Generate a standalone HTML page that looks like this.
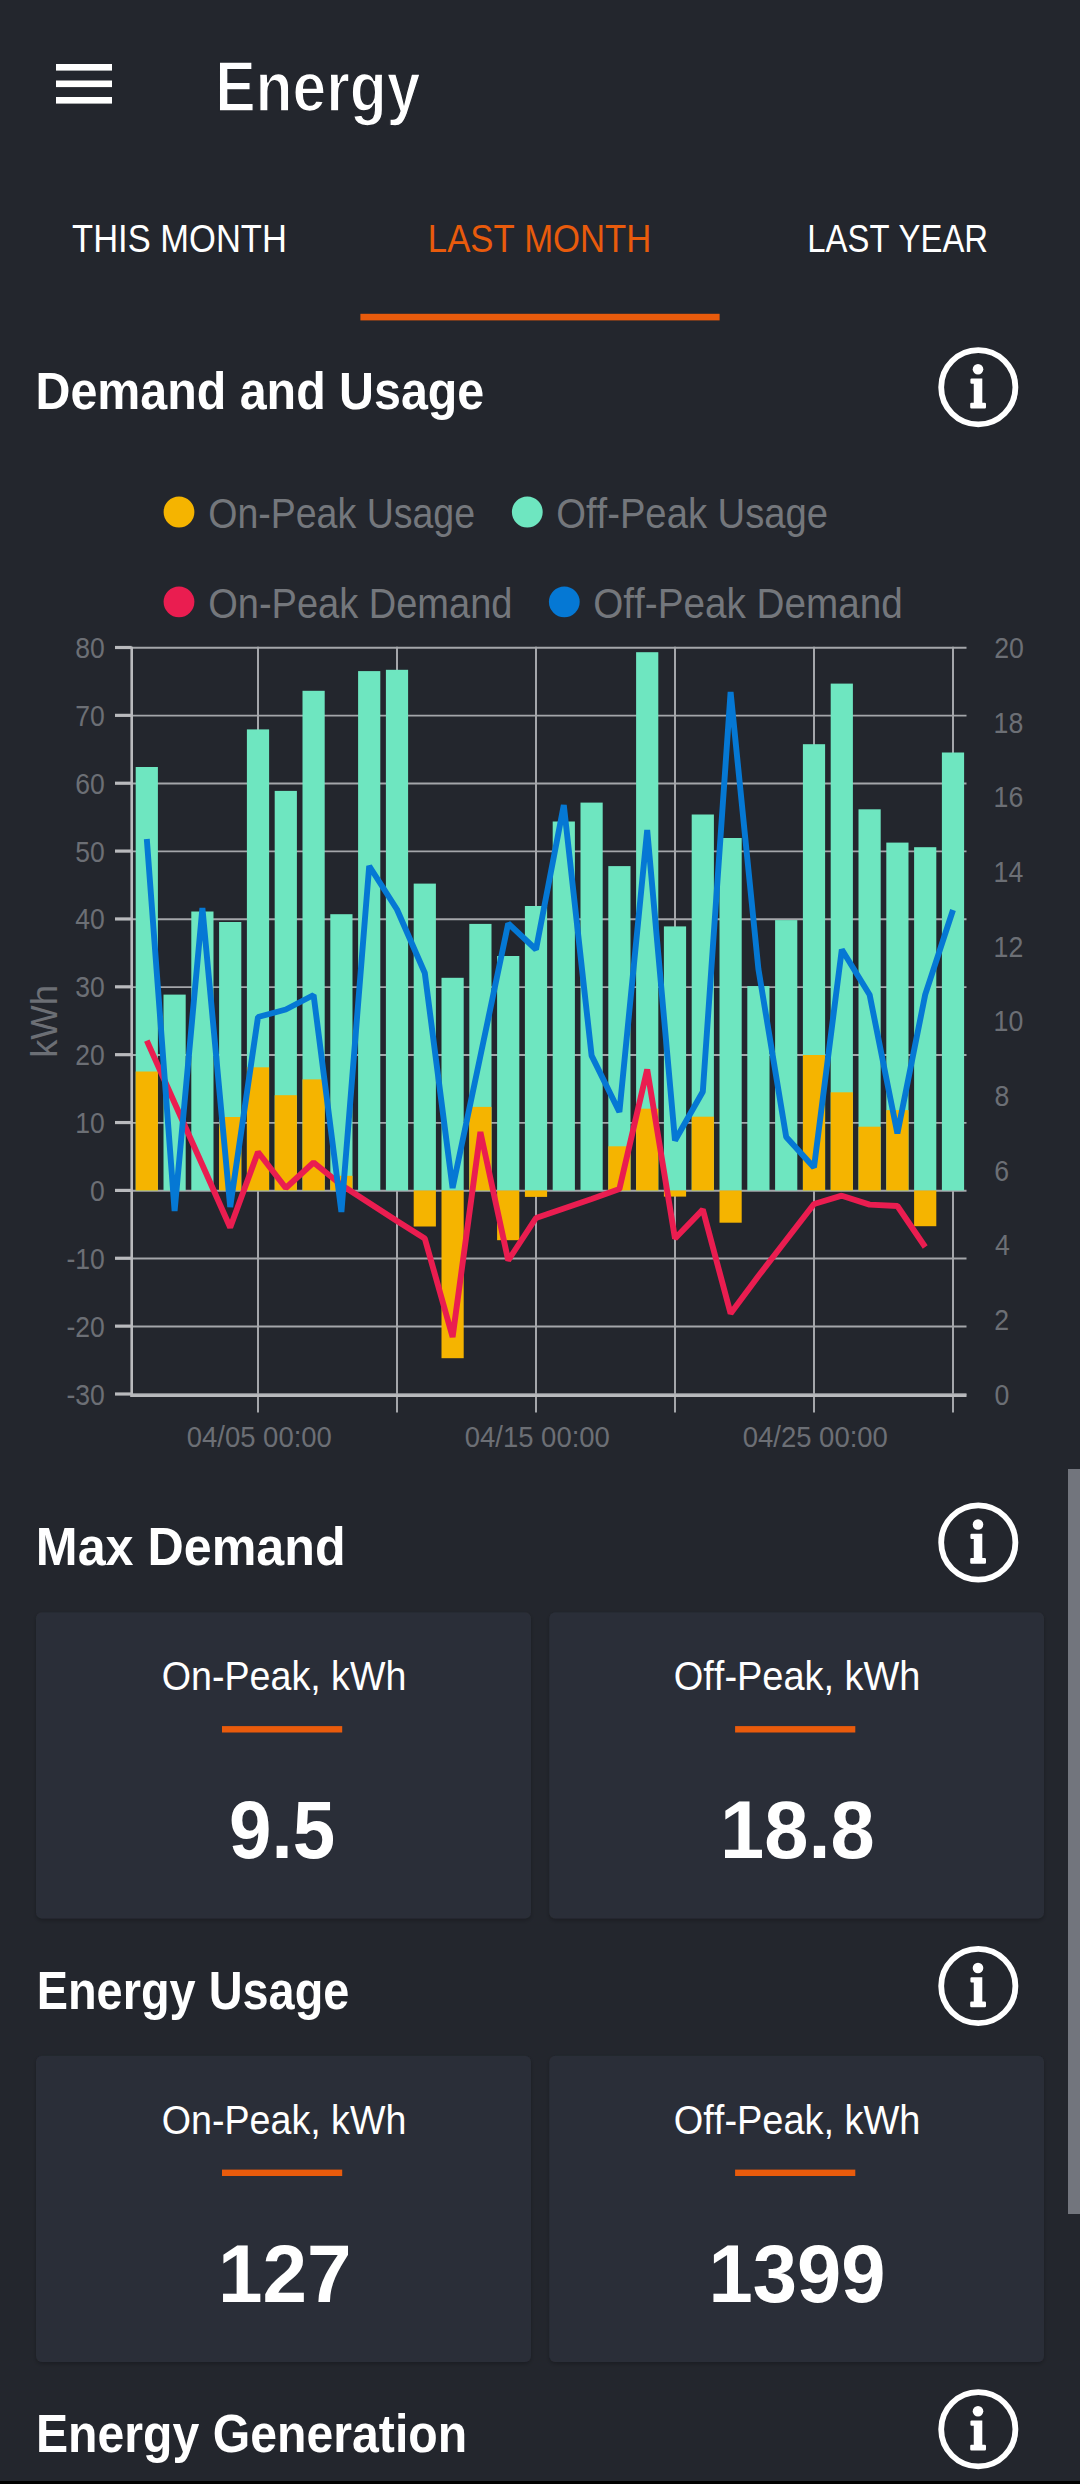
<!DOCTYPE html>
<html><head><meta charset="utf-8"><title>Energy</title>
<style>
html,body{margin:0;padding:0;background:#23262d;}
body{width:1080px;height:2484px;overflow:hidden;}
svg{display:block;font-family:"Liberation Sans",Arial,sans-serif;font-kerning:none;}
</style></head>
<body>
<svg width="1080" height="2484" viewBox="0 0 1080 2484">
<defs><filter id="sh" x="-5%" y="-5%" width="110%" height="115%"><feDropShadow dx="0" dy="2" stdDeviation="2" flood-color="#000" flood-opacity="0.25"/></filter></defs>
<rect x="0" y="0" width="1080" height="2484" fill="#23262d"/>
<rect x="56" y="64" width="56" height="6.6" fill="#fff"/>
<rect x="56" y="80.5" width="56" height="6.6" fill="#fff"/>
<rect x="56" y="97" width="56" height="6.6" fill="#fff"/>
<text x="215.15" y="111.40" font-size="70.93" font-weight="bold" fill="#fff" textLength="205.17" lengthAdjust="spacingAndGlyphs" stroke="#23262d" stroke-width="1.6">Energy</text>
<text x="72.12" y="252.20" font-size="39.39" font-weight="normal" fill="#fff" textLength="214.69" lengthAdjust="spacingAndGlyphs">THIS MONTH</text>
<text x="427.86" y="252.20" font-size="39.39" font-weight="normal" fill="#e95b0c" textLength="223.47" lengthAdjust="spacingAndGlyphs">LAST MONTH</text>
<text x="807.31" y="252.20" font-size="39.39" font-weight="normal" fill="#fff" textLength="180.72" lengthAdjust="spacingAndGlyphs">LAST YEAR</text>
<rect x="360.4" y="313.8" width="359.2" height="6.6" fill="#e95b0c"/>
<text x="35.47" y="408.70" font-size="51.89" font-weight="bold" fill="#fff" textLength="448.79" lengthAdjust="spacingAndGlyphs">Demand and Usage</text>
<g transform="translate(0,-0.10)"><circle cx="978.3" cy="387.3" r="37.1" fill="none" stroke="#fff" stroke-width="5.8"/><circle cx="978" cy="369.3" r="5.3" fill="#fff"/><path d="M971.4,378.5 H982.3 V402.9 H984.8 Q986,402.9 986,404.1 V407.3 Q986,408.5 984.8,408.5 H971.4 Q970.2,408.5 970.2,407.3 V404.1 Q970.2,402.9 971.4,402.9 H973.75 V383.75 H971.6 Q970.4,383.75 970.4,382.55 V379.7 Q970.4,378.5 971.6,378.5 Z" fill="#fff"/></g>
<circle cx="179" cy="512" r="15.4" fill="#f5b400"/>
<text x="208.22" y="528.00" font-size="42.44" font-weight="normal" fill="#74777c" textLength="266.84" lengthAdjust="spacingAndGlyphs">On-Peak Usage</text>
<circle cx="527.3" cy="512" r="15.4" fill="#6ee6c0"/>
<text x="556.19" y="528.00" font-size="42.44" font-weight="normal" fill="#74777c" textLength="271.91" lengthAdjust="spacingAndGlyphs">Off-Peak Usage</text>
<circle cx="179" cy="601.8" r="15.4" fill="#ea1d50"/>
<text x="208.20" y="617.80" font-size="42.44" font-weight="normal" fill="#74777c" textLength="304.25" lengthAdjust="spacingAndGlyphs">On-Peak Demand</text>
<circle cx="564.3" cy="601.8" r="15.4" fill="#0578d4"/>
<text x="593.17" y="617.80" font-size="42.44" font-weight="normal" fill="#74777c" textLength="309.63" lengthAdjust="spacingAndGlyphs">Off-Peak Demand</text>
<line x1="131.7" y1="647.80" x2="966.5" y2="647.80" stroke="#a4a6aa" stroke-width="1.9"/>
<line x1="115" y1="647.50" x2="131.7" y2="647.50" stroke="#b9babd" stroke-width="3.2"/>
<line x1="131.7" y1="715.66" x2="966.5" y2="715.66" stroke="#a4a6aa" stroke-width="1.9"/>
<line x1="115" y1="715.36" x2="131.7" y2="715.36" stroke="#b9babd" stroke-width="3.2"/>
<line x1="131.7" y1="783.53" x2="966.5" y2="783.53" stroke="#a4a6aa" stroke-width="1.9"/>
<line x1="115" y1="783.23" x2="131.7" y2="783.23" stroke="#b9babd" stroke-width="3.2"/>
<line x1="131.7" y1="851.39" x2="966.5" y2="851.39" stroke="#a4a6aa" stroke-width="1.9"/>
<line x1="115" y1="851.09" x2="131.7" y2="851.09" stroke="#b9babd" stroke-width="3.2"/>
<line x1="131.7" y1="919.25" x2="966.5" y2="919.25" stroke="#a4a6aa" stroke-width="1.9"/>
<line x1="115" y1="918.95" x2="131.7" y2="918.95" stroke="#b9babd" stroke-width="3.2"/>
<line x1="131.7" y1="987.12" x2="966.5" y2="987.12" stroke="#a4a6aa" stroke-width="1.9"/>
<line x1="115" y1="986.82" x2="131.7" y2="986.82" stroke="#b9babd" stroke-width="3.2"/>
<line x1="131.7" y1="1054.98" x2="966.5" y2="1054.98" stroke="#a4a6aa" stroke-width="1.9"/>
<line x1="115" y1="1054.68" x2="131.7" y2="1054.68" stroke="#b9babd" stroke-width="3.2"/>
<line x1="131.7" y1="1122.85" x2="966.5" y2="1122.85" stroke="#a4a6aa" stroke-width="1.9"/>
<line x1="115" y1="1122.55" x2="131.7" y2="1122.55" stroke="#b9babd" stroke-width="3.2"/>
<line x1="131.7" y1="1190.71" x2="966.5" y2="1190.71" stroke="#a4a6aa" stroke-width="1.9"/>
<line x1="115" y1="1190.41" x2="131.7" y2="1190.41" stroke="#b9babd" stroke-width="3.2"/>
<line x1="131.7" y1="1258.57" x2="966.5" y2="1258.57" stroke="#a4a6aa" stroke-width="1.9"/>
<line x1="115" y1="1258.27" x2="131.7" y2="1258.27" stroke="#b9babd" stroke-width="3.2"/>
<line x1="131.7" y1="1326.44" x2="966.5" y2="1326.44" stroke="#a4a6aa" stroke-width="1.9"/>
<line x1="115" y1="1326.14" x2="131.7" y2="1326.14" stroke="#b9babd" stroke-width="3.2"/>
<line x1="131.7" y1="1394.30" x2="966.5" y2="1394.30" stroke="#a4a6aa" stroke-width="1.9"/>
<line x1="115" y1="1394.00" x2="131.7" y2="1394.00" stroke="#b9babd" stroke-width="3.2"/>
<line x1="258.00" y1="646.80" x2="258.00" y2="1412.5" stroke="#a4a6aa" stroke-width="2"/>
<line x1="397.00" y1="646.80" x2="397.00" y2="1412.5" stroke="#a4a6aa" stroke-width="2"/>
<line x1="536.00" y1="646.80" x2="536.00" y2="1412.5" stroke="#a4a6aa" stroke-width="2"/>
<line x1="675.00" y1="646.80" x2="675.00" y2="1412.5" stroke="#a4a6aa" stroke-width="2"/>
<line x1="814.00" y1="646.80" x2="814.00" y2="1412.5" stroke="#a4a6aa" stroke-width="2"/>
<line x1="953.00" y1="646.80" x2="953.00" y2="1412.5" stroke="#a4a6aa" stroke-width="2"/>
<line x1="131.7" y1="646.80" x2="131.7" y2="1397" stroke="#b9babd" stroke-width="2.6"/>
<line x1="130.39999999999998" y1="1395.6" x2="966.5" y2="1395.6" stroke="#b9babd" stroke-width="2.8"/>
<rect x="135.70" y="767.00" width="22.2" height="423.50" fill="#6ee6c0"/>
<rect x="135.70" y="1071.50" width="22.2" height="119.00" fill="#f5b400"/>
<rect x="163.50" y="994.60" width="22.2" height="195.90" fill="#6ee6c0"/>
<rect x="191.30" y="911.50" width="22.2" height="279.00" fill="#6ee6c0"/>
<rect x="219.10" y="922.00" width="22.2" height="268.50" fill="#6ee6c0"/>
<rect x="219.10" y="1117.00" width="22.2" height="73.50" fill="#f5b400"/>
<rect x="246.90" y="729.40" width="22.2" height="461.10" fill="#6ee6c0"/>
<rect x="246.90" y="1067.30" width="22.2" height="123.20" fill="#f5b400"/>
<rect x="274.70" y="790.90" width="22.2" height="399.60" fill="#6ee6c0"/>
<rect x="274.70" y="1095.20" width="22.2" height="95.30" fill="#f5b400"/>
<rect x="302.50" y="690.80" width="22.2" height="499.70" fill="#6ee6c0"/>
<rect x="302.50" y="1079.40" width="22.2" height="111.10" fill="#f5b400"/>
<rect x="330.30" y="914.20" width="22.2" height="276.30" fill="#6ee6c0"/>
<rect x="330.30" y="1175.80" width="22.2" height="14.70" fill="#f5b400"/>
<rect x="358.10" y="671.10" width="22.2" height="519.40" fill="#6ee6c0"/>
<rect x="385.90" y="669.80" width="22.2" height="520.70" fill="#6ee6c0"/>
<rect x="413.70" y="883.60" width="22.2" height="306.90" fill="#6ee6c0"/>
<rect x="413.70" y="1190.50" width="22.2" height="36.00" fill="#f5b400"/>
<rect x="441.50" y="977.80" width="22.2" height="212.70" fill="#6ee6c0"/>
<rect x="441.50" y="1190.50" width="22.2" height="167.70" fill="#f5b400"/>
<rect x="469.30" y="923.90" width="22.2" height="266.60" fill="#6ee6c0"/>
<rect x="469.30" y="1106.90" width="22.2" height="83.60" fill="#f5b400"/>
<rect x="497.10" y="956.00" width="22.2" height="234.50" fill="#6ee6c0"/>
<rect x="497.10" y="1190.50" width="22.2" height="49.70" fill="#f5b400"/>
<rect x="524.90" y="906.00" width="22.2" height="284.50" fill="#6ee6c0"/>
<rect x="524.90" y="1190.50" width="22.2" height="6.40" fill="#f5b400"/>
<rect x="552.70" y="821.50" width="22.2" height="369.00" fill="#6ee6c0"/>
<rect x="580.50" y="802.60" width="22.2" height="387.90" fill="#6ee6c0"/>
<rect x="608.30" y="866.10" width="22.2" height="324.40" fill="#6ee6c0"/>
<rect x="608.30" y="1146.30" width="22.2" height="44.20" fill="#f5b400"/>
<rect x="636.10" y="652.20" width="22.2" height="538.30" fill="#6ee6c0"/>
<rect x="636.10" y="1108.70" width="22.2" height="81.80" fill="#f5b400"/>
<rect x="663.90" y="926.40" width="22.2" height="264.10" fill="#6ee6c0"/>
<rect x="663.90" y="1190.50" width="22.2" height="6.10" fill="#f5b400"/>
<rect x="691.70" y="814.50" width="22.2" height="376.00" fill="#6ee6c0"/>
<rect x="691.70" y="1116.70" width="22.2" height="73.80" fill="#f5b400"/>
<rect x="719.50" y="838.00" width="22.2" height="352.50" fill="#6ee6c0"/>
<rect x="719.50" y="1190.50" width="22.2" height="32.20" fill="#f5b400"/>
<rect x="747.30" y="986.10" width="22.2" height="204.40" fill="#6ee6c0"/>
<rect x="775.10" y="920.10" width="22.2" height="270.40" fill="#6ee6c0"/>
<rect x="802.90" y="744.20" width="22.2" height="446.30" fill="#6ee6c0"/>
<rect x="802.90" y="1055.00" width="22.2" height="135.50" fill="#f5b400"/>
<rect x="830.70" y="683.60" width="22.2" height="506.90" fill="#6ee6c0"/>
<rect x="830.70" y="1092.30" width="22.2" height="98.20" fill="#f5b400"/>
<rect x="858.50" y="809.30" width="22.2" height="381.20" fill="#6ee6c0"/>
<rect x="858.50" y="1126.70" width="22.2" height="63.80" fill="#f5b400"/>
<rect x="886.30" y="842.60" width="22.2" height="347.90" fill="#6ee6c0"/>
<rect x="886.30" y="1110.10" width="22.2" height="80.40" fill="#f5b400"/>
<rect x="914.10" y="847.20" width="22.2" height="343.30" fill="#6ee6c0"/>
<rect x="914.10" y="1190.50" width="22.2" height="35.70" fill="#f5b400"/>
<rect x="941.90" y="752.50" width="22.2" height="438.00" fill="#6ee6c0"/>
<polyline points="146.80,1040.60 174.60,1103.00 202.40,1165.00 230.20,1227.50 258.00,1152.00 285.80,1188.00 313.60,1162.50 341.40,1185.00 369.20,1203.00 397.00,1221.00 424.80,1238.50 452.60,1337.00 480.40,1132.00 508.20,1260.50 536.00,1218.00 563.80,1208.50 591.60,1199.00 619.40,1189.00 647.20,1069.50 675.00,1238.50 702.80,1209.60 730.60,1313.50 758.40,1276.00 786.20,1240.00 814.00,1204.00 841.80,1195.70 869.60,1204.60 897.40,1206.00 925.20,1247.00" fill="none" stroke="#ea1d50" stroke-width="5.9" stroke-linejoin="bevel" stroke-linecap="butt"/>
<polyline points="146.80,839.00 174.60,1211.00 202.40,908.00 230.20,1207.00 258.00,1017.00 285.80,1009.50 313.60,995.00 341.40,1212.00 369.20,866.00 397.00,909.50 424.80,973.00 452.60,1188.00 480.40,1056.00 508.20,923.50 536.00,949.50 563.80,805.00 591.60,1055.60 619.40,1112.00 647.20,830.00 675.00,1140.50 702.80,1091.70 730.60,692.00 758.40,969.00 786.20,1137.00 814.00,1167.50 841.80,949.50 869.60,994.70 897.40,1133.50 925.20,994.70 953.00,910.00" fill="none" stroke="#0578d4" stroke-width="5.9" stroke-linejoin="bevel" stroke-linecap="butt"/>
<text x="75.32" y="658.00" font-size="29.00" font-weight="normal" fill="#6c6f75" textLength="29.52" lengthAdjust="spacingAndGlyphs">80</text>
<text x="75.32" y="725.86" font-size="29.00" font-weight="normal" fill="#6c6f75" textLength="29.52" lengthAdjust="spacingAndGlyphs">70</text>
<text x="75.32" y="793.73" font-size="29.00" font-weight="normal" fill="#6c6f75" textLength="29.52" lengthAdjust="spacingAndGlyphs">60</text>
<text x="75.32" y="861.59" font-size="29.00" font-weight="normal" fill="#6c6f75" textLength="29.52" lengthAdjust="spacingAndGlyphs">50</text>
<text x="75.32" y="929.45" font-size="29.00" font-weight="normal" fill="#6c6f75" textLength="29.52" lengthAdjust="spacingAndGlyphs">40</text>
<text x="75.32" y="997.32" font-size="29.00" font-weight="normal" fill="#6c6f75" textLength="29.52" lengthAdjust="spacingAndGlyphs">30</text>
<text x="75.32" y="1065.18" font-size="29.00" font-weight="normal" fill="#6c6f75" textLength="29.52" lengthAdjust="spacingAndGlyphs">20</text>
<text x="75.32" y="1133.05" font-size="29.00" font-weight="normal" fill="#6c6f75" textLength="29.52" lengthAdjust="spacingAndGlyphs">10</text>
<text x="90.08" y="1200.91" font-size="29.00" font-weight="normal" fill="#6c6f75" textLength="14.76" lengthAdjust="spacingAndGlyphs">0</text>
<text x="66.49" y="1268.77" font-size="29.00" font-weight="normal" fill="#6c6f75" textLength="38.35" lengthAdjust="spacingAndGlyphs">-10</text>
<text x="66.49" y="1336.64" font-size="29.00" font-weight="normal" fill="#6c6f75" textLength="38.35" lengthAdjust="spacingAndGlyphs">-20</text>
<text x="66.49" y="1404.50" font-size="29.00" font-weight="normal" fill="#6c6f75" textLength="38.35" lengthAdjust="spacingAndGlyphs">-30</text>
<text x="994.56" y="1404.50" font-size="29.00" font-weight="normal" fill="#6c6f75" textLength="14.84" lengthAdjust="spacingAndGlyphs">0</text>
<text x="994.26" y="1329.85" font-size="29.00" font-weight="normal" fill="#6c6f75" textLength="14.84" lengthAdjust="spacingAndGlyphs">2</text>
<text x="994.99" y="1255.20" font-size="29.00" font-weight="normal" fill="#6c6f75" textLength="14.84" lengthAdjust="spacingAndGlyphs">4</text>
<text x="994.25" y="1180.55" font-size="29.00" font-weight="normal" fill="#6c6f75" textLength="14.84" lengthAdjust="spacingAndGlyphs">6</text>
<text x="994.44" y="1105.90" font-size="29.00" font-weight="normal" fill="#6c6f75" textLength="14.84" lengthAdjust="spacingAndGlyphs">8</text>
<text x="993.57" y="1031.25" font-size="29.00" font-weight="normal" fill="#6c6f75" textLength="29.68" lengthAdjust="spacingAndGlyphs">10</text>
<text x="993.57" y="956.60" font-size="29.00" font-weight="normal" fill="#6c6f75" textLength="29.68" lengthAdjust="spacingAndGlyphs">12</text>
<text x="993.57" y="881.95" font-size="29.00" font-weight="normal" fill="#6c6f75" textLength="29.68" lengthAdjust="spacingAndGlyphs">14</text>
<text x="993.57" y="807.30" font-size="29.00" font-weight="normal" fill="#6c6f75" textLength="29.68" lengthAdjust="spacingAndGlyphs">16</text>
<text x="993.57" y="732.65" font-size="29.00" font-weight="normal" fill="#6c6f75" textLength="29.68" lengthAdjust="spacingAndGlyphs">18</text>
<text x="994.26" y="658.00" font-size="29.00" font-weight="normal" fill="#6c6f75" textLength="29.68" lengthAdjust="spacingAndGlyphs">20</text>
<text x="186.73" y="1446.50" font-size="29.00" font-weight="normal" fill="#6c6f75" textLength="145.15" lengthAdjust="spacingAndGlyphs">04/05 00:00</text>
<text x="464.73" y="1446.50" font-size="29.00" font-weight="normal" fill="#6c6f75" textLength="145.15" lengthAdjust="spacingAndGlyphs">04/15 00:00</text>
<text x="742.73" y="1446.50" font-size="29.00" font-weight="normal" fill="#6c6f75" textLength="145.15" lengthAdjust="spacingAndGlyphs">04/25 00:00</text>
<g transform="translate(57.2,1055.4) rotate(-90)"><text x="-2.45" y="0.00" font-size="37.70" font-weight="normal" fill="#6c6f75" textLength="72.82" lengthAdjust="spacingAndGlyphs">kWh</text></g>
<text x="35.84" y="1565.00" font-size="53.34" font-weight="bold" fill="#fff" textLength="309.77" lengthAdjust="spacingAndGlyphs">Max Demand</text>
<g transform="translate(0,1155.20)"><circle cx="978.3" cy="387.3" r="37.1" fill="none" stroke="#fff" stroke-width="5.8"/><circle cx="978" cy="369.3" r="5.3" fill="#fff"/><path d="M971.4,378.5 H982.3 V402.9 H984.8 Q986,402.9 986,404.1 V407.3 Q986,408.5 984.8,408.5 H971.4 Q970.2,408.5 970.2,407.3 V404.1 Q970.2,402.9 971.4,402.9 H973.75 V383.75 H971.6 Q970.4,383.75 970.4,382.55 V379.7 Q970.4,378.5 971.6,378.5 Z" fill="#fff"/></g>
<rect x="36" y="1612.3" width="495" height="306.2" rx="6" fill="#2a2e37" filter="url(#sh)"/>
<text x="161.82" y="1690.00" font-size="40.70" font-weight="normal" fill="#fff" textLength="244.52" lengthAdjust="spacingAndGlyphs">On-Peak, kWh</text>
<rect x="222.0" y="1726.1" width="120.2" height="6.4" fill="#e95b0c"/>
<text x="229.05" y="1858.00" font-size="81.92" font-weight="bold" fill="#fff" textLength="106.07" lengthAdjust="spacingAndGlyphs">9.5</text>
<rect x="549.3" y="1612.3" width="494.70000000000005" height="306.2" rx="6" fill="#2a2e37" filter="url(#sh)"/>
<text x="673.80" y="1690.00" font-size="40.70" font-weight="normal" fill="#fff" textLength="246.66" lengthAdjust="spacingAndGlyphs">Off-Peak, kWh</text>
<rect x="735.1" y="1726.1" width="120.2" height="6.4" fill="#e95b0c"/>
<text x="720.00" y="1858.00" font-size="81.92" font-weight="bold" fill="#fff" textLength="154.65" lengthAdjust="spacingAndGlyphs">18.8</text>
<text x="36.66" y="2008.50" font-size="53.34" font-weight="bold" fill="#fff" textLength="312.74" lengthAdjust="spacingAndGlyphs">Energy Usage</text>
<g transform="translate(0,1598.70)"><circle cx="978.3" cy="387.3" r="37.1" fill="none" stroke="#fff" stroke-width="5.8"/><circle cx="978" cy="369.3" r="5.3" fill="#fff"/><path d="M971.4,378.5 H982.3 V402.9 H984.8 Q986,402.9 986,404.1 V407.3 Q986,408.5 984.8,408.5 H971.4 Q970.2,408.5 970.2,407.3 V404.1 Q970.2,402.9 971.4,402.9 H973.75 V383.75 H971.6 Q970.4,383.75 970.4,382.55 V379.7 Q970.4,378.5 971.6,378.5 Z" fill="#fff"/></g>
<rect x="36" y="2055.8" width="495" height="306.2" rx="6" fill="#2a2e37" filter="url(#sh)"/>
<text x="161.82" y="2133.50" font-size="40.70" font-weight="normal" fill="#fff" textLength="244.52" lengthAdjust="spacingAndGlyphs">On-Peak, kWh</text>
<rect x="222.0" y="2169.6" width="120.2" height="6.4" fill="#e95b0c"/>
<text x="218.06" y="2301.50" font-size="81.92" font-weight="bold" fill="#fff" textLength="133.56" lengthAdjust="spacingAndGlyphs">127</text>
<rect x="549.3" y="2055.8" width="494.70000000000005" height="306.2" rx="6" fill="#2a2e37" filter="url(#sh)"/>
<text x="673.80" y="2133.50" font-size="40.70" font-weight="normal" fill="#fff" textLength="246.66" lengthAdjust="spacingAndGlyphs">Off-Peak, kWh</text>
<rect x="735.1" y="2169.6" width="120.2" height="6.4" fill="#e95b0c"/>
<text x="708.39" y="2301.50" font-size="81.92" font-weight="bold" fill="#fff" textLength="177.07" lengthAdjust="spacingAndGlyphs">1399</text>
<text x="35.98" y="2452.00" font-size="53.34" font-weight="bold" fill="#fff" textLength="431.21" lengthAdjust="spacingAndGlyphs">Energy Generation</text>
<g transform="translate(0,2041.90)"><circle cx="978.3" cy="387.3" r="37.1" fill="none" stroke="#fff" stroke-width="5.8"/><circle cx="978" cy="369.3" r="5.3" fill="#fff"/><path d="M971.4,378.5 H982.3 V402.9 H984.8 Q986,402.9 986,404.1 V407.3 Q986,408.5 984.8,408.5 H971.4 Q970.2,408.5 970.2,407.3 V404.1 Q970.2,402.9 971.4,402.9 H973.75 V383.75 H971.6 Q970.4,383.75 970.4,382.55 V379.7 Q970.4,378.5 971.6,378.5 Z" fill="#fff"/></g>
<rect x="1068" y="1469" width="12" height="745" fill="#72757d"/>
<rect x="0" y="2481" width="1080" height="3" fill="#000"/>
</svg>
</body></html>
